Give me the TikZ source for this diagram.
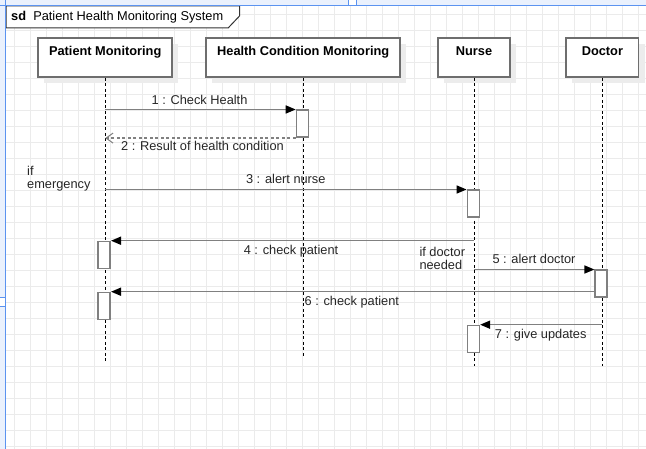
\documentclass[tikz,border=0pt]{standalone}
\usepackage{fontspec}
\setmainfont{Liberation Sans}
\usetikzlibrary{arrows.meta,shadows}
\definecolor{gridc}{HTML}{EBEBEB}
\definecolor{boxc}{HTML}{6E6E6E}
\definecolor{msgc}{HTML}{808080}
\definecolor{bandc}{HTML}{EAF1FD}
\definecolor{selc}{HTML}{5B93F0}
\definecolor{shadc}{HTML}{ECECEC}
\tikzset{
  gridline/.style={draw=gridc, line width=0.9pt},
  headbox/.style={draw=boxc, line width=1.8pt, fill=white, inner sep=0pt,
    text height=9.6pt, text depth=13.7pt, inner ysep=8pt, minimum height=39.3pt,
    font=\fontsize{12.8pt}{12.8pt}\selectfont\bfseries,
    drop shadow={shadow xshift=6pt, shadow yshift=-6pt, fill=shadc, opacity=1}},
  actbox/.style={draw=msgc, line width=1.6pt, fill=white, inner sep=0pt,
    minimum width=12pt, minimum height=27pt, anchor=north},
  lifeline/.style={draw=black, line width=0.9pt, dash pattern=on 3pt off 2.5pt},
  msg/.style={draw=msgc, line width=1.6pt, -{Triangle[length=10pt,width=8pt,color=black]}},
  retmsg/.style={draw=msgc, line width=1.4pt, dash pattern=on 3pt off 2.5pt,
    -{Straight Barb[length=7pt,width=10pt,line width=1pt,color=msgc]}},
  msglabel/.style={anchor=base, inner sep=0pt, text=black!85},
  note/.style={anchor=base west, inner sep=0pt, align=left, text=black!85},
}
\begin{document}
\begin{tikzpicture}[x=1pt,y=-1pt,font=\fontsize{12.8pt}{12.8pt}\selectfont]
\useasboundingbox (0,0) rectangle (646,449);
\fill[white] (0,0) rectangle (646,449);
% grid
\foreach \i in {0,...,39} \draw[gridline] ({14.7+16*\i},0) -- ({14.7+16*\i},449);
\foreach \j in {0,...,27} \draw[gridline] (0,{14.7+16*\j}) -- (646,{14.7+16*\j});
% selection bands
\fill[bandc] (0,0) rectangle (646,5.5);
\fill[bandc] (0,0) rectangle (5.5,449);
% frame label
\draw[draw=black!80, line width=1pt, fill=white] (6,6) -- (239.5,6) -- (239.5,16) -- (228.3,27.8) -- (6,27.8) -- cycle;
\node[anchor=base west, inner sep=0pt] (title) at (11,20.7) {\textbf{sd}\ \ Patient Health Monitoring System};
\draw[selc, line width=1.2pt] (0,5.6) -- (646,5.6);
\draw[selc, line width=1.2pt] (5.6,0) -- (5.6,449);
\fill[white] (348.5,0) rectangle (356,5);
\draw[selc, line width=1pt] (348.5,0) -- (348.5,5.6) (356,0) -- (356,5.6);
\fill[white] (0,297.7) rectangle (5,306.3);
\draw[selc, line width=1pt] (0,297.7) -- (5.6,297.7) (0,306.3) -- (5.6,306.3);
% heads
\node[headbox, minimum width=134pt] (pm) at (105.2,57.3) {Patient Monitoring};
\node[headbox, minimum width=194.3pt] (hc) at (303.2,57.3) {Health Condition Monitoring};
\node[headbox, minimum width=72pt] (nu) at (474,57.3) {Nurse};
\node[headbox, minimum width=72.3pt] (dr) at (602.4,57.3) {Doctor};
% lifeline ends
\coordinate (pmend) at (105.5,362);
\coordinate (hcend) at (303.5,356.7);
\coordinate (nuend) at (474.3,366.5);
\coordinate (drend) at (602.7,366.5);
\draw[lifeline] (pm.south) -- (pm.south |- pmend);
\draw[lifeline] (hc.south) -- (hc.south |- hcend);
\draw[lifeline] (nu.south) -- (nu.south |- nuend);
\draw[lifeline] (dr.south) -- (dr.south |- drend);
% activations
\node[actbox] (h1) at (302.5,109.5) {};
\node[actbox] (n1) at (473.35,189.5) {};
\node[actbox] (p1) at (104.2,240.7) {};
\node[actbox] (d1) at (601.2,269.5) {};
\node[actbox] (p2) at (104.2,291.7) {};
\node[actbox] (n2) at (473.35,324.7) {};
% messages
\draw[msg] (pm |- h1.north west) -- (h1.north west);
\draw[retmsg] (h1.south west) -- (pm |- h1.south west);
\draw[msg] (pm |- n1.north west) -- (n1.north west);
\draw[msg] (nu |- p1.north east) -- (p1.north east);
\draw[msg] (nu |- d1.north west) -- (d1.north west);
\draw[msg] (d1.west |- p2.north east) -- (p2.north east);
\draw[msg] (dr |- n2.north east) -- (n2.north east);
% labels
\node[msglabel] (l1) at (199.5,104.3) {1 : Check Health};
\node[msglabel] (l2) at (202.5,151) {2 : Result of health condition};
\node[msglabel] (l3) at (285.8,184) {3 : alert nurse};
\node[msglabel] (l4) at (291,255) {4 : check patient};
\node[msglabel] (l5) at (534,264) {5 : alert doctor};
\node[msglabel] (l6) at (351.8,306) {6 : check patient};
\node[msglabel] (l7) at (540.7,338.5) {7 : give updates};
\node[note] (g1) at (27,188.3) {if\\[-0.3pt]emergency};
\node[note] (g2) at (419.3,269.3) {if doctor\\[-0.3pt]needed};
\end{tikzpicture}
\end{document}
